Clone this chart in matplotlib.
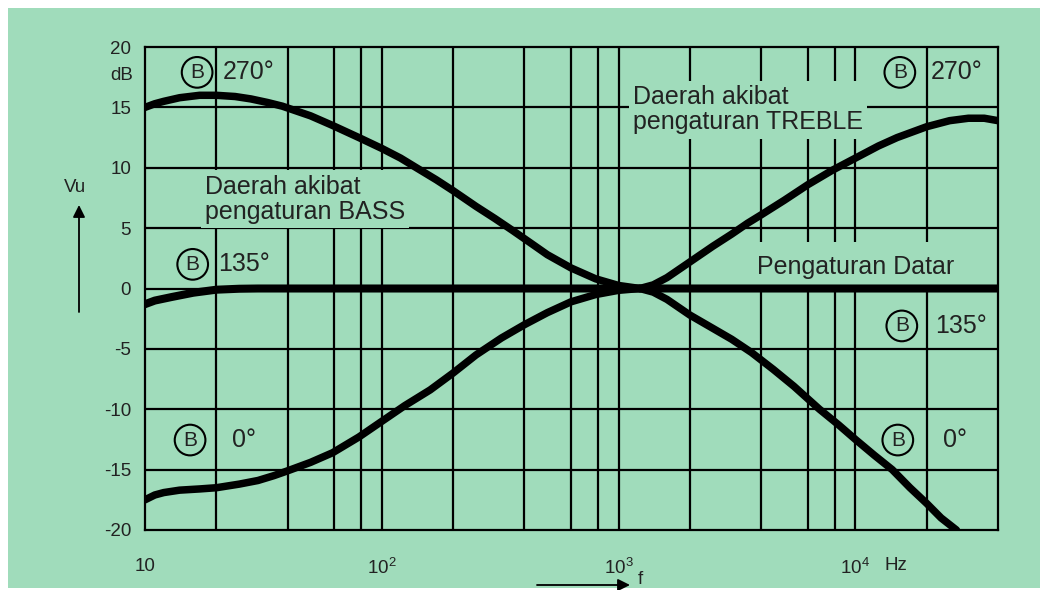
import matplotlib
matplotlib.use("Agg")
import matplotlib.pyplot as plt
from matplotlib.patches import Rectangle

plt.rcParams['font.family'] = ['Liberation Sans', 'DejaVu Sans']
plt.rcParams['axes.unicode_minus'] = False

BG = '#a0dcbb'
INK = '#222222'

# frekuensi (Hz) dan penguatan (dB)
bass_boost_f = [10, 11, 12, 14, 17, 20, 24, 28, 33, 38, 50, 62, 80, 100, 120, 140, 170,
                200, 250, 300, 357, 430, 500, 630, 800, 1000, 1230]
bass_boost_db = [15.0, 15.3, 15.5, 15.8, 16.0, 16.0, 15.9, 15.7, 15.4, 15.1, 14.3, 13.5, 12.5,
                 11.6, 10.8, 10.0, 9.0, 8.1, 6.8, 5.8, 4.8, 3.7, 2.8, 1.7, 0.8, 0.25, 0.0]

treble_boost_f = [1230, 1400, 1600, 2000, 2500, 3000, 3500, 4000, 5000, 6300, 8000, 10000,
                  12500, 15000, 20000, 25000, 30000, 35000, 40000]
treble_boost_db = [0.0, 0.3, 0.9, 2.2, 3.5, 4.5, 5.4, 6.1, 7.3, 8.6, 9.8, 10.8,
                   11.8, 12.5, 13.4, 13.9, 14.1, 14.1, 13.9]

flat_f = [10, 11, 13, 16, 20, 25, 30, 40000]
flat_db = [-1.3, -1.0, -0.7, -0.35, -0.1, -0.02, 0.0, 0.0]

bass_cut_f = [10, 11, 12, 14, 17, 20, 25, 30, 35, 40, 50, 62, 80, 100, 125, 160, 200, 250,
              320, 400, 500, 630, 800, 1000, 1230]
bass_cut_db = [-17.5, -17.1, -16.9, -16.7, -16.6, -16.5, -16.2, -15.9, -15.5, -15.1, -14.4,
               -13.6, -12.3, -11.0, -9.7, -8.4, -7.0, -5.5, -4.1, -3.0, -2.0, -1.1, -0.5, -0.15, 0.0]

treble_cut_f = [1230, 1400, 1600, 2000, 2500, 3000, 3640, 4500, 5500, 7050, 8500, 10000,
                12000, 14300, 17000, 20000, 23000, 26700]
treble_cut_db = [0.0, -0.3, -0.9, -2.2, -3.3, -4.2, -5.3, -6.7, -8.1, -10.0, -11.3, -12.5,
                 -13.8, -15.0, -16.5, -17.8, -19.0, -20.0]

grid_decades = [10, 100, 1000, 10000]
grid_steps = [1, 2, 4, 6.3, 8.2]
y_ticks = [-20, -15, -10, -5, 0, 5, 10, 15, 20]
x_ticks = [10, 100, 1000, 10000]
x_labels = ['10', r'$\mathregular{10^2}$', r'$\mathregular{10^3}$', r'$\mathregular{10^4}$']

fig = plt.figure(figsize=(10.48, 5.9), dpi=100, facecolor='white')
fig.add_artist(Rectangle((8 / 1048, 2 / 590), 1032 / 1048, 580 / 590,
                         transform=fig.transFigure, facecolor=BG, edgecolor='none', zorder=0))
ax = fig.add_axes([145 / 1048, 60 / 590, 853 / 1048, 483 / 590])
ax.set_facecolor(BG)
ax.set_xscale('log')
ax.set_xlim(10, 40000)
ax.set_ylim(-20, 20)

# garis kisi
for d in grid_decades:
    for s in grid_steps:
        f = d * s
        if 10 < f < 40000:
            ax.axvline(f, color='black', lw=1.6, zorder=1)
for v in y_ticks[1:-1]:
    ax.axhline(v, color='black', lw=1.6, zorder=1)

for sp in ax.spines.values():
    sp.set_linewidth(1.6)
    sp.set_zorder(5)

# kurva
kw = dict(color='black', lw=5.4, solid_capstyle='round', solid_joinstyle='round', zorder=4)
ax.plot(flat_f, flat_db, **dict(kw, lw=5.8))
ax.plot(bass_boost_f, bass_boost_db, **kw)
ax.plot(treble_boost_f, treble_boost_db, **kw)
ax.plot(bass_cut_f, bass_cut_db, **kw)
ax.plot(treble_cut_f, treble_cut_db, **kw)

ax.set_xticks(x_ticks)
ax.set_xticklabels(x_labels)
ax.xaxis.set_minor_locator(matplotlib.ticker.NullLocator())
ax.set_yticks(y_ticks)
ax.tick_params(axis='both', length=0, labelsize=13.5, colors=INK)
ax.tick_params(axis='x', pad=20)
ax.tick_params(axis='y', pad=10)

fig.text(885 / 1048, 1 - 566 / 590, 'Hz', fontsize=13.5, color=INK, ha='left', va='center')
fig.text(133 / 1048, 1 - 75 / 590, 'dB', fontsize=13.5, color=INK, ha='right', va='center')
fig.text(75 / 1048, 1 - 188 / 590, 'Vu', fontsize=13.5, color=INK, ha='center', va='center')
fig.text(640 / 1048, 1 - 580 / 590, 'f', fontsize=13.5, color=INK, ha='center', va='center')

arrow = dict(arrowstyle='-|>', color='black', lw=1.3, mutation_scale=18, shrinkA=0, shrinkB=0)
ax.annotate('', xy=(79, 590 - 205), xytext=(79, 590 - 312),
            xycoords='figure pixels', textcoords='figure pixels', arrowprops=arrow)
ax.annotate('', xy=(630, 5), xytext=(537, 5),
            xycoords='figure pixels', textcoords='figure pixels', arrowprops=arrow)

# label area
mask = dict(facecolor=BG, edgecolor='none', pad=3)
ax.text(17.9, 7.4, 'Daerah akibat\npengaturan BASS', fontsize=18, color=INK,
        ha='left', va='center', linespacing=1.05, bbox=mask, zorder=2)
ax.text(1150, 14.8, 'Daerah akibat\npengaturan TREBLE', fontsize=18, color=INK,
        ha='left', va='center', linespacing=1.05, bbox=mask, zorder=2)
ax.text(3840, 1.8, 'Pengaturan Datar', fontsize=18, color=INK,
        ha='left', va='center', bbox=dict(mask, pad=9), zorder=2)

circle = dict(boxstyle='circle,pad=0.28', facecolor='none', edgecolor='black', lw=1.5)
labels = [
    (16.6, 17.9, 21.3, '270°'),
    (15400, 17.9, 20700, '270°'),
    (15.9, 2.0, 20.3, '135°'),
    (15700, -3.1, 21700, '135°'),
    (15.5, -12.55, 23.3, '0°'),
    (15100, -12.55, 23400, '0°'),
]
for bx, by, tx, txt in labels:
    ax.text(bx, by, 'B', fontsize=15, color=INK, ha='center', va='center', bbox=circle, zorder=3)
    ax.text(tx, by, txt, fontsize=18, color=INK, ha='left', va='center', zorder=3)

fig.savefig('out.png', dpi=100, facecolor='white')
